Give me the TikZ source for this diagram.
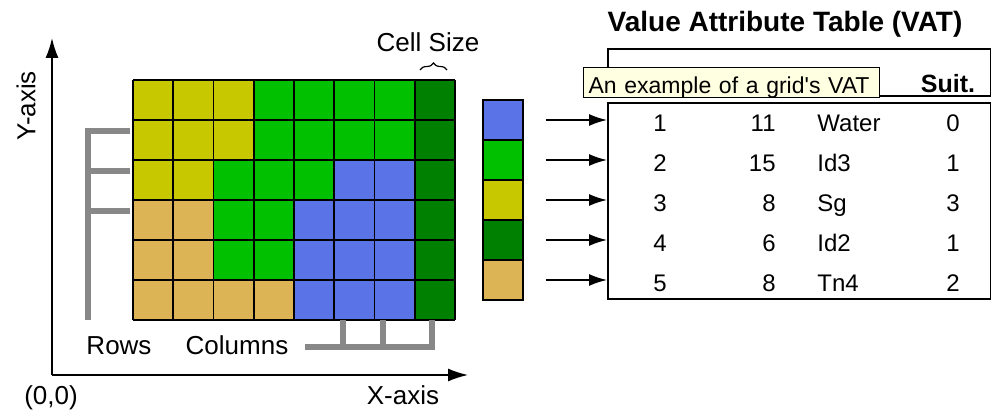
\documentclass[tikz,border=0pt]{standalone}
\usepackage{fontspec}
\setmainfont{Liberation Sans}
\usetikzlibrary{arrows.meta,positioning,decorations.pathreplacing}

\definecolor{cellyellow}{RGB}{200,200,0}
\definecolor{cellgreen}{RGB}{0,192,0}
\definecolor{celldark}{RGB}{0,128,0}
\definecolor{cellblue}{RGB}{90,115,230}
\definecolor{celltan}{RGB}{221,180,85}
\definecolor{tipyellow}{RGB}{255,255,225}
\definecolor{bracketgray}{RGB}{136,136,136}

\tikzset{
  gridline/.style={draw=black, line width=0.8pt},
  bracket/.style={draw=bracketgray, line width=2.8pt},
  axis/.style={line width=0.8pt, -{Latex[length=10pt,width=6.5pt]}},
  pointer/.style={line width=0.8pt, -{Latex[length=9pt,width=6pt]}},
  lbl/.style={font=\fontsize{13}{15}\selectfont, inner sep=0pt},
  vatrow/.style={font=\fontsize{12}{14}\selectfont, inner sep=0pt},
  vathead/.style={font=\bfseries\fontsize{12.5}{14}\selectfont, inner sep=0pt},
  legendbox/.style={draw=black, line width=0.8pt, minimum size=20pt, inner sep=0pt},
}

\begin{document}
\begin{tikzpicture}[x=0.5pt,y=-0.5pt]
    \useasboundingbox (0,0) rectangle (991,411);

    % grid cells
    \foreach \rowlist [count=\r from 0] in {
        {cellyellow,cellyellow,cellyellow,cellgreen,cellgreen,cellgreen,cellgreen,celldark},
        {cellyellow,cellyellow,cellyellow,cellgreen,cellgreen,cellgreen,cellgreen,celldark},
        {cellyellow,cellyellow,cellgreen,cellgreen,cellgreen,cellblue,cellblue,celldark},
        {celltan,celltan,cellgreen,cellgreen,cellblue,cellblue,cellblue,celldark},
        {celltan,celltan,cellgreen,cellgreen,cellblue,cellblue,cellblue,celldark},
        {celltan,celltan,celltan,celltan,cellblue,cellblue,cellblue,celldark}}
      \foreach \col [count=\c from 0] in \rowlist
        \fill[\col] (133+40.25*\c,80+40*\r) rectangle ++(40.25,40);
    \foreach \c in {0,...,8}
      \draw[gridline] (133+40.25*\c,80) -- ++(0,240);
    \foreach \r in {0,...,6}
      \draw[gridline] (133,80+40*\r) -- ++(322,0);

    % rows and columns
    \draw[bracket] (88,128) -- (88,320);
    \foreach \y in {131,171,211}
      \draw[bracket] (88,\y) -- (130,\y);
    \draw[bracket] (305,347) -- (435,347);
    \foreach \x in {343,383,432}
      \draw[bracket] (\x,320) -- (\x,347);

    % axes
    \coordinate (origin) at (52,375);
    \coordinate (ytip) at (52,38);
    \coordinate (xtip) at (468,375);
    \draw[axis] (origin) -- (ytip);
    \draw[axis] (origin) -- (xtip);

    % labels
    \node[lbl, rotate=90] (ylabel) at (26,106) {Y-axis};
    \node[lbl, anchor=base] (origlabel) at (51,404) {(0,0)};
    \node[lbl, anchor=base] (xlabel) at (403,404) {X-axis};
    \node[lbl, anchor=base] (rowslabel) at (119,355) {Rows};
    \node[lbl, anchor=base] (colslabel) at (237,355) {Columns};
    \node[lbl, anchor=base] (celllabel) at (428,52) {Cell Size};
    \draw[line width=0.6pt, decorate, decoration={brace, amplitude=3.5pt}]
      (420,70) -- (447,70);

    % legend
    \foreach \col [count=\i from 0] in {cellblue,cellgreen,cellyellow,celldark,celltan}
      \node[legendbox, fill=\col] (key\i) at (503,120+40*\i) {};

    % value attribute table
    \node[font=\bfseries\fontsize{14}{16}\selectfont, inner sep=0pt, anchor=base]
      (vattitle) at (785,32) {Value Attribute Table (VAT)};
    \node[draw, line width=0.8pt, minimum width=191.5pt, minimum height=23.5pt,
      inner sep=0pt, anchor=north west] (vathd) at (607,48) {};
    \node[draw, line width=0.8pt, minimum width=191.5pt, minimum height=98pt,
      inner sep=0pt, anchor=north west] (vat) at (607,102) {};
    \node[vathead, anchor=base] (suithd) at (948,93) {Suit.};

    \foreach \val/\cnt/\name/\suit [count=\i from 0] in
        {1/11/Water/0, 2/15/Id3/1, 3/8/Sg/3, 4/6/Id2/1, 5/8/Tn4/2} {
      \node[vatrow, anchor=base] (val\i) at (660,132+40*\i) {\val};
      \node[vatrow, anchor=base east] (cnt\i) at (776,132+40*\i) {\cnt};
      \node[vatrow, anchor=base west] (name\i) at (817,132+40*\i) {\name};
      \node[vatrow, anchor=base] (suit\i) at (953,132+40*\i) {\suit};
      \draw[pointer] ([xshift=11pt]key\i.east) -- (vat.west |- key\i);
    }

    % tooltip
    \node[draw, fill=tipyellow, line width=0.6pt, anchor=north west,
      font=\fontsize{11.5}{13}\selectfont, text width=143pt, align=left,
      inner xsep=2.5pt, inner ysep=0pt, text height=13pt, text depth=2pt]
      (tooltip) at (583,67) {An example of a grid\textquotesingle s VAT};
\end{tikzpicture}
\end{document}
